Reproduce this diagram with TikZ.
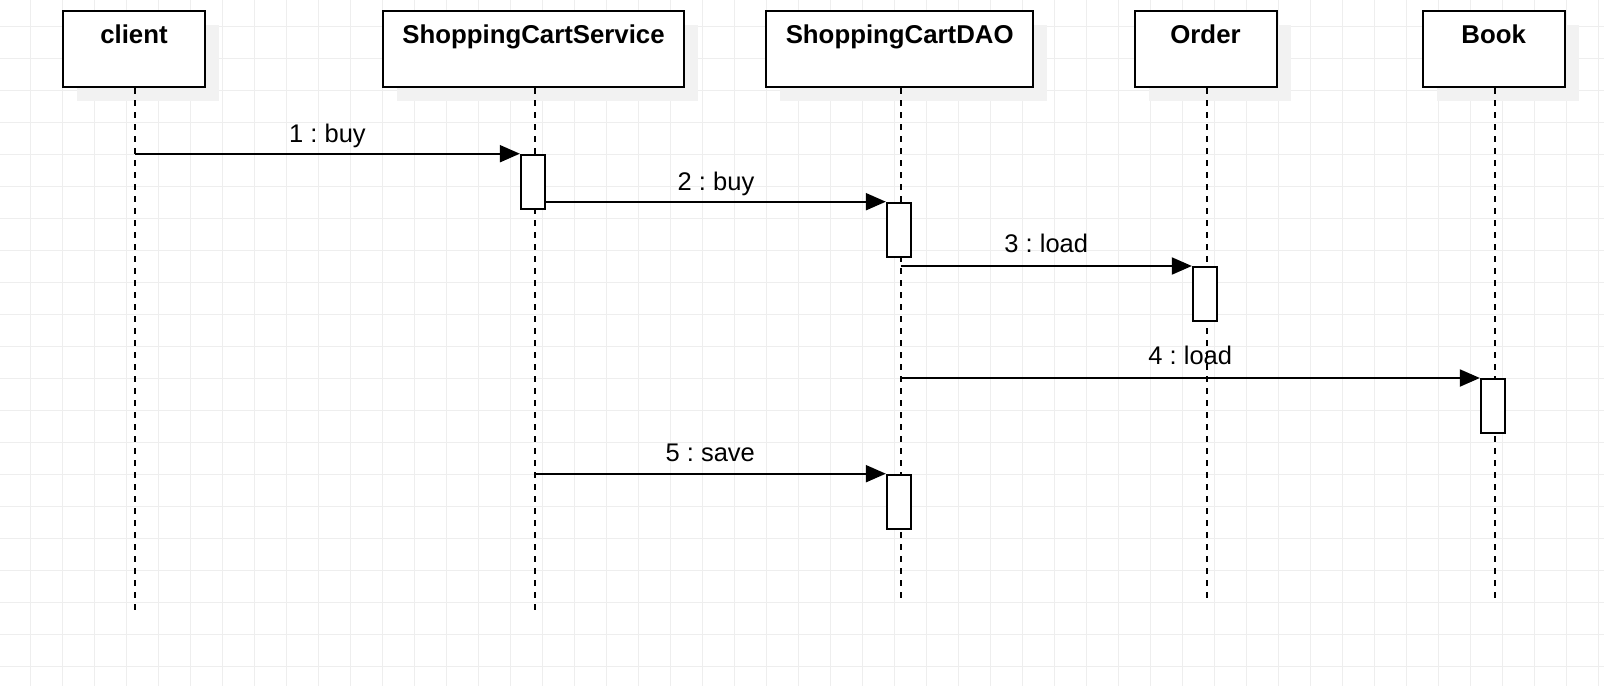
\documentclass[tikz,border=0pt]{standalone}
\usepackage{fontspec}
\setmainfont{Liberation Sans}
\usetikzlibrary{arrows.meta,shadows}
\definecolor{gridc}{HTML}{EEEEEE}
\definecolor{shadowc}{HTML}{F2F2F2}
\frenchspacing
\begin{document}
\begin{tikzpicture}[x=1pt,y=-1pt,
  gridline/.style={draw=gridc, line width=1pt},
  lifebox/.style={draw, line width=2pt, fill=white, minimum width=142pt, minimum height=76pt, inner sep=0pt,
    drop shadow={shadow xshift=14pt, shadow yshift=-14pt, fill=shadowc, opacity=1}},
  titletext/.style={font=\fontsize{25.8}{30}\selectfont\bfseries, inner sep=0pt, anchor=base},
  lbl/.style={font=\fontsize{25.5}{30}\selectfont, inner sep=0pt, anchor=base},
  lifeline/.style={line width=2pt, dash pattern=on 6pt off 6pt},
  actbox/.style={draw, line width=2pt, fill=white, minimum width=24.3pt, minimum height=54.3pt, inner sep=0pt, anchor=north},
  msg/.style={line width=2pt, -{Triangle[length=20pt,width=17pt]}}
]
\useasboundingbox (0,0) rectangle (1604,686);
\fill[white] (0,0) rectangle (1604,686);
% grid
\foreach \i in {0,...,49} \draw[gridline] ({30.3+32*\i},0) -- ({30.3+32*\i},686);
\foreach \j in {0,...,20} \draw[gridline] (0,{26.3+32*\j}) -- (1604,{26.3+32*\j});

% lifeline heads
\node[lifebox] (client) at (134,49) {};
\node[lifebox, minimum width=301pt] (scs) at (533.5,49) {};
\node[lifebox, minimum width=267pt] (dao) at (899.7,49) {};
\node[lifebox] (order) at (1205.5,49) {};
\node[lifebox] (book) at (1493.7,49) {};

\node[titletext] (tclient) at ([yshift=-33.3pt]client.north) {client};
\node[titletext] (tscs) at ([yshift=-33.3pt]scs.north) {ShoppingCartService};
\node[titletext] (tdao) at ([yshift=-33.3pt]dao.north) {ShoppingCartDAO};
\node[titletext] (torder) at ([yshift=-33.3pt]order.north) {Order};
\node[titletext] (tbook) at ([yshift=-33.3pt]book.north) {Book};

% lifeline ends
\coordinate (clientEnd) at (135,612);
\coordinate (scsEnd) at (534.7,612);
\coordinate (daoEnd) at (900.7,600);
\coordinate (orderEnd) at (1207,600);
\coordinate (bookEnd) at (1495,600);

\draw[lifeline] (client.south -| clientEnd) -- (clientEnd);
\draw[lifeline] (scs.south -| scsEnd) -- (scsEnd);
\draw[lifeline] (dao.south -| daoEnd) -- (daoEnd);
\draw[lifeline] (order.south -| orderEnd) -- (orderEnd);
\draw[lifeline] (book.south -| bookEnd) -- (bookEnd);

% activations
\node[actbox] (act1) at (533,153.7) {};
\node[actbox] (act2) at (899,201.7) {};
\node[actbox] (act3) at (1205,266) {};
\node[actbox] (act4) at (1493,378) {};
\node[actbox] (act5) at (899,473.7) {};

% messages
\draw[msg] (clientEnd |- act1.north west) -- node[lbl, yshift=11.4pt] (l1) {1 : buy} (act1.north west);
\draw[msg] (act1.east |- act2.north west) -- node[lbl, yshift=11.4pt] (l2) {2 : buy} (act2.north west);
\draw[msg] (daoEnd |- act3.north west) -- node[lbl, yshift=13.3pt] (l3) {3 : load} (act3.north west);
\draw[msg] (daoEnd |- act4.north west) -- node[lbl, yshift=13.7pt] (l4) {4 : load} (act4.north west);
\draw[msg] (scsEnd |- act5.north west) -- node[lbl, yshift=12.7pt] (l5) {5 : save} (act5.north west);
\end{tikzpicture}
\end{document}
